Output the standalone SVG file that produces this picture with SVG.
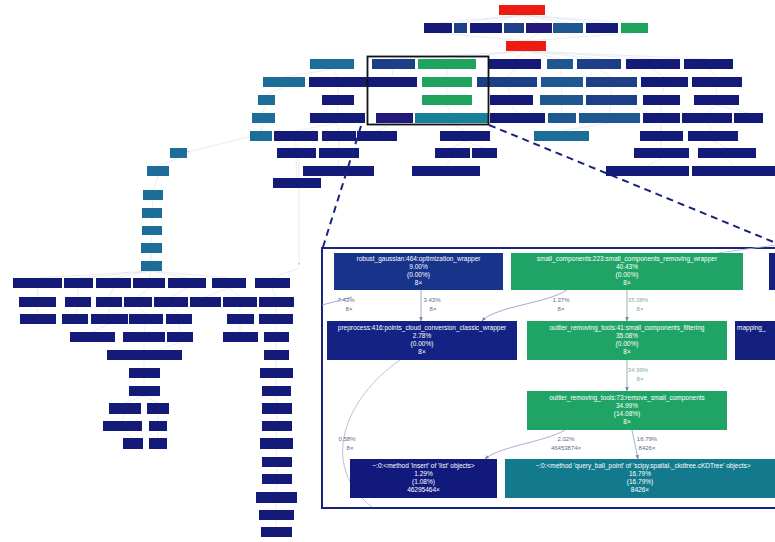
<svg xmlns="http://www.w3.org/2000/svg" width="775" height="542" viewBox="0 0 775 542">
<defs>
<style>
.n{fill:#141a78}.b{fill:#1c3f88}.b2{fill:#1f5890}.t{fill:#1c6e98}.t2{fill:#17819c}.p{fill:#22197a}.g{fill:#1fa35f}.r{fill:#ec1c10}
.c{stroke:#dcdfeb;stroke-width:0.6;fill:none}
.e{stroke:#9a9fbd;stroke-width:0.9;fill:none}
.eg{stroke:#8fbca2;stroke-width:1;fill:none}
.tx{font-family:"Liberation Sans",Arial,sans-serif;font-size:6.5px;fill:#ffffff;text-anchor:middle}
.lb{font-family:"Liberation Sans",Arial,sans-serif;font-size:6px;fill:#5f6894;text-anchor:middle}
.lg{font-family:"Liberation Sans",Arial,sans-serif;font-size:6px;fill:#7fae95;text-anchor:middle}
.dash{stroke:#1a237e;stroke-width:2;stroke-dasharray:7 5;fill:none}
</style>
<marker id="ah" viewBox="0 0 10 10" refX="9" refY="5" markerWidth="5" markerHeight="5" orient="auto"><path d="M0,1 L10,5 L0,9 z" fill="#7d83a6"/></marker>
<marker id="ahs" viewBox="0 0 10 10" refX="9" refY="5" markerWidth="4" markerHeight="4" orient="auto"><path d="M0,1 L10,5 L0,9 z" fill="#b8bdd4"/></marker>
</defs>
<rect width="775" height="542" fill="#ffffff"/>

<g id="main-connectors">
<path class="c" d="M522,15 L438,23 M522,15 L460,23 M522,15 L486,23 M522,15 L514,23 M522,15 L539,23 M522,15 L568,23 M522,15 L602,23 M522,15 L634,23"/>
<path class="c" d="M438,33 L526,41 M539,33 L526,41 M634,33 L526,41"/>
<path class="c" d="M526,51 L393,59 M526,51 L447,59 M526,51 L515,59 M526,51 L560,59 M526,51 L599,59 M526,51 L653,59 M526,51 L708,59"/>
<path class="c" d="M332,69 L284,77 M332,69 L338,77 M393,69 L392,77 M447,69 L447,77 M515,69 L507,77 M560,69 L562,77 M599,69 L611,77 M653,69 L664,77 M708,69 L717,77"/>
<path class="c" d="M284,87 L266,95 M338,87 L338,95 M447,87 L447,95 M507,87 L511,95 M562,87 L561,95 M611,87 L611,95 M664,87 L661,95 M717,87 L716,95"/>
<path class="c" d="M266,105 L263,113 M338,105 L337,113 M447,105 L451,113 M511,105 L517,113 M561,105 L562,113 M611,105 L609,113 M661,105 L661,113 M716,105 L707,113 M716,105 L748,113"/>
<path class="c" d="M263,123 L261,131 M337,123 L296,131 M337,123 L339,131 M394,123 L377,131 M451,123 L465,131 M609,123 L561,131 M661,123 L661,131 M707,123 L713,131"/>
<path class="c" d="M296,141 L296,148 M339,141 L339,148 M465,141 L452,148 M465,141 L484,148 M661,141 L661,148 M713,141 L727,148"/>
<path class="c" d="M339,158 L338,166 M452,158 L446,166 M661,158 L647,166 M727,158 L733,166 M296,158 L297,178"/>
<path class="c" d="M249,137 L187,152" marker-end="url(#ahs)"/>
<path class="c" d="M299,146 L299,265" marker-end="url(#ahs)"/>
<path class="c" d="M178,158 L158,166 M158,176 L153,190 M153,200 L152,208 M152,218 L152,226 M152,235 L151,243 M151,253 L151,261"/>
<path class="c" d="M151,271 L38,278 M151,271 L78,278 M151,271 L113,278 M151,271 L149,278 M151,271 L187,278 M151,271 L229,278 M299,268 L272,278"/>
<path class="c" d="M38,288 L37,297 M78,288 L78,297 M113,288 L109,297 M149,288 L138,297 M187,288 L171,297 M229,288 L205,297 M229,288 L240,297 M272,288 L276,297"/>
<path class="c" d="M37,307 L38,314 M78,307 L75,314 M109,307 L109,314 M138,307 L146,314 M171,307 L179,314 M240,307 L240,314 M276,307 L276,314"/>
<path class="c" d="M109,324 L92,332 M146,324 L144,332 M179,324 L180,332 M240,324 L240,332 M276,324 L276,332"/>
<path class="c" d="M144,342 L144,350 M180,342 L160,350 M276,342 L276,350"/>
<path class="c" d="M144,360 L144,368 M144,378 L144,386 M144,396 L125,403 M144,396 L158,403 M125,414 L122,421 M158,414 L158,421 M122,431 L133,438 M158,431 L158,438 M276,360 L276,368 M276,378 L276,386 M276,396 L277,403 M277,414 L277,421 M277,431 L276,438 M276,449 L277,457 M277,467 L277,474 M277,484 L276,492 M276,503 L276,510 M276,520 L276,527"/>
</g>

<g id="main-nodes">
<rect id="m-r1" class="r" x="499" y="5" width="46" height="10"/>
<g id="m-row2"><rect class="n" x="424" y="23" width="28" height="10"/><rect class="b" x="454" y="23" width="13" height="10"/><rect class="n" x="470" y="23" width="32" height="10"/><rect class="b" x="504" y="23" width="20" height="10"/><rect class="p" x="526" y="23" width="26" height="10"/><rect class="b2" x="553" y="23" width="30" height="10"/><rect class="n" x="586" y="23" width="32" height="10"/><rect class="g" x="621" y="23" width="27" height="10"/></g>
<rect id="m-r2" class="r" x="506" y="41" width="40" height="10"/>
<g id="m-row3"><rect class="t" x="310" y="59" width="44" height="10"/><rect class="b" x="372" y="59" width="43" height="10"/><rect class="g" x="418" y="59" width="58" height="10"/><rect class="n" x="489" y="59" width="52" height="10"/><rect class="b2" x="547" y="59" width="26" height="10"/><rect class="b" x="577" y="59" width="44" height="10"/><rect class="n" x="626" y="59" width="54" height="10"/><rect class="n" x="684" y="59" width="49" height="10"/></g>
<g id="m-row4"><rect class="t" x="263" y="77" width="42" height="10"/><rect class="n" x="309" y="77" width="58" height="10"/><rect class="n" x="368" y="77" width="49" height="10"/><rect class="g" x="422" y="77" width="50" height="10"/><rect class="b" x="477" y="77" width="60" height="10"/><rect class="b2" x="541" y="77" width="42" height="10"/><rect class="b" x="586" y="77" width="51" height="10"/><rect class="n" x="641" y="77" width="47" height="10"/><rect class="n" x="692" y="77" width="50" height="10"/></g>
<g id="m-row5"><rect class="t" x="258" y="95" width="17" height="10"/><rect class="n" x="322" y="95" width="32" height="10"/><rect class="g" x="422" y="95" width="50" height="10"/><rect class="n" x="490" y="95" width="43" height="10"/><rect class="b2" x="540" y="95" width="43" height="10"/><rect class="b" x="586" y="95" width="51" height="10"/><rect class="n" x="643" y="95" width="37" height="10"/><rect class="n" x="694" y="95" width="45" height="10"/></g>
<g id="m-row6"><rect class="t" x="252" y="113" width="23" height="10"/><rect class="n" x="310" y="113" width="55" height="10"/><rect class="p" x="376" y="113" width="37" height="10"/><rect class="t2" x="415" y="113" width="73" height="10"/><rect class="n" x="490" y="113" width="55" height="10"/><rect class="b2" x="548" y="113" width="28" height="10"/><rect class="b2" x="579" y="113" width="61" height="10"/><rect class="n" x="643" y="113" width="37" height="10"/><rect class="n" x="682" y="113" width="50" height="10"/><rect class="n" x="734" y="113" width="29" height="10"/></g>
<g id="m-row7"><rect class="t" x="250" y="131" width="22" height="10"/><rect class="n" x="274" y="131" width="44" height="10"/><rect class="n" x="322" y="131" width="34" height="10"/><rect class="n" x="357" y="131" width="40" height="10"/><rect class="n" x="440" y="131" width="50" height="10"/><rect class="t" x="534" y="131" width="55" height="10"/><rect class="n" x="640" y="131" width="43" height="10"/><rect class="n" x="688" y="131" width="50" height="10"/></g>
<g id="m-row8"><rect class="t" x="170" y="148" width="17" height="10"/><rect class="n" x="277" y="148" width="39" height="10"/><rect class="n" x="319" y="148" width="40" height="10"/><rect class="n" x="435" y="148" width="35" height="10"/><rect class="n" x="472" y="148" width="25" height="10"/><rect class="n" x="634" y="148" width="55" height="10"/><rect class="n" x="698" y="148" width="58" height="10"/></g>
<g id="m-row9"><rect class="t" x="147" y="166" width="22" height="10"/><rect class="n" x="303" y="166" width="71" height="10"/><rect class="n" x="412" y="166" width="68" height="10"/><rect class="n" x="606" y="166" width="83" height="10"/><rect class="n" x="692" y="166" width="83" height="10"/></g>
<rect id="m-row10" class="n" x="273" y="178" width="48" height="10"/>
<g id="m-leftcol"><rect class="t" x="143" y="190" width="20" height="10"/><rect class="t" x="142" y="208" width="20" height="10"/><rect class="t" x="142" y="226" width="20" height="9"/><rect class="t" x="141" y="243" width="21" height="10"/><rect class="t" x="141" y="261" width="21" height="10"/></g>
<g id="m-rowL1"><rect class="n" x="13" y="278" width="49" height="10"/><rect class="n" x="64" y="278" width="29" height="10"/><rect class="n" x="96" y="278" width="35" height="10"/><rect class="n" x="133" y="278" width="32" height="10"/><rect class="n" x="168" y="278" width="38" height="10"/><rect class="n" x="212" y="278" width="34" height="10"/><rect class="n" x="255" y="278" width="35" height="10"/></g>
<g id="m-rowL2"><rect class="n" x="19" y="297" width="37" height="10"/><rect class="n" x="65" y="297" width="26" height="10"/><rect class="n" x="96" y="297" width="26" height="10"/><rect class="n" x="124" y="297" width="28" height="10"/><rect class="n" x="154" y="297" width="34" height="10"/><rect class="n" x="190" y="297" width="31" height="10"/><rect class="n" x="223" y="297" width="34" height="10"/><rect class="n" x="259" y="297" width="35" height="10"/></g>
<g id="m-rowL3"><rect class="n" x="20" y="314" width="36" height="10"/><rect class="n" x="62" y="314" width="26" height="10"/><rect class="n" x="91" y="314" width="37" height="10"/><rect class="n" x="129" y="314" width="34" height="10"/><rect class="n" x="166" y="314" width="26" height="10"/><rect class="n" x="227" y="314" width="27" height="10"/><rect class="n" x="259" y="314" width="34" height="10"/></g>
<g id="m-rowL4"><rect class="n" x="70" y="332" width="45" height="10"/><rect class="n" x="123" y="332" width="42" height="10"/><rect class="n" x="167" y="332" width="26" height="10"/><rect class="n" x="223" y="332" width="35" height="10"/><rect class="n" x="264" y="332" width="25" height="10"/></g>
<g id="m-lower"><rect class="n" x="107" y="350" width="75" height="10"/><rect class="n" x="129" y="368" width="31" height="10"/><rect class="n" x="129" y="386" width="31" height="10"/><rect class="n" x="109" y="403" width="32" height="11"/><rect class="n" x="147" y="403" width="22" height="11"/><rect class="n" x="103" y="421" width="39" height="10"/><rect class="n" x="149" y="421" width="18" height="10"/><rect class="n" x="123" y="438" width="20" height="11"/><rect class="n" x="149" y="438" width="18" height="11"/></g>
<g id="m-rightcol"><rect class="n" x="264" y="350" width="25" height="10"/><rect class="n" x="260" y="368" width="33" height="10"/><rect class="n" x="262" y="386" width="29" height="10"/><rect class="n" x="262" y="403" width="30" height="11"/><rect class="n" x="262" y="421" width="30" height="10"/><rect class="n" x="260" y="438" width="33" height="11"/><rect class="n" x="262" y="457" width="30" height="10"/><rect class="n" x="262" y="474" width="30" height="10"/><rect class="n" x="256" y="492" width="41" height="11"/><rect class="n" x="259" y="510" width="35" height="10"/><rect class="n" x="261" y="527" width="31" height="10"/></g>
</g>

<g id="zoom-frame">
<rect x="367.5" y="56.5" width="121" height="68" fill="none" stroke="#111111" stroke-width="1.8"/>
<path class="dash" d="M361,126 L323,247"/>
<path class="dash" d="M489,125 L776,243"/>
<rect x="322" y="248" width="460" height="260" fill="#ffffff" stroke="#1a237e" stroke-width="2"/>
</g>

<g id="connectors">
<path class="e" d="M322,305 L352,297"/>
<path class="e" d="M421,290 L421,321" marker-end="url(#ah)"/>
<path class="e" d="M567,290 C545,304 496,306 482,321" marker-end="url(#ah)"/>
<path class="eg" d="M627,290 L627,321" marker-end="url(#ah)"/>
<path class="eg" d="M627,360 L627,391" marker-end="url(#ah)"/>
<path class="e" d="M565,430 C545,442 500,446 485,459" marker-end="url(#ah)" style="stroke:#b79bc8"/>
<path class="e" d="M632,430 L638,459" marker-end="url(#ah)" style="stroke:#8fb0bc"/>
<path class="e" d="M400,360 C345,398 318,465 372,507" style="stroke:#b6bad0"/>
<path class="e" d="M718,253 L776,245" style="stroke:#b6bad0"/>
<text class="lb" x="346" y="302">7.43%</text><text class="lb" x="349" y="311">8×</text>
<text class="lb" x="432" y="302">3.43%</text><text class="lb" x="433" y="311">8×</text>
<text class="lb" x="561" y="302">1.37%</text><text class="lb" x="561" y="311">8×</text>
<text class="lg" x="638" y="302">35.08%</text><text class="lg" x="640" y="311">8×</text>
<text class="lg" x="638" y="372">34.99%</text><text class="lg" x="640" y="381">8×</text>
<text class="lb" x="566" y="441">2.02%</text><text class="lb" x="566" y="450">46453874×</text>
<text class="lb" x="647" y="441">16.79%</text><text class="lb" x="647" y="450">8426×</text>
<text class="lb" x="347" y="441">0.58%</text><text class="lb" x="350" y="450">8×</text>
</g>

<g id="node-robust">
<rect x="334" y="253" width="169" height="37" fill="#17338a"/>
<text class="tx" x="418.5" y="261">robust_gaussian:464:optimization_wrapper</text>
<text class="tx" x="418.5" y="269">9.00%</text><text class="tx" x="418.5" y="277">(0.00%)</text><text class="tx" x="418.5" y="285">8×</text>
</g>
<g id="node-small-wrapper">
<rect x="511" y="253" width="232" height="37" fill="#1fa466"/>
<text class="tx" x="627" y="261">small_components:223:small_components_removing_wrapper</text>
<text class="tx" x="627" y="269">40.43%</text><text class="tx" x="627" y="277">(0.00%)</text><text class="tx" x="627" y="285">8×</text>
</g>
<g id="node-right-top">
<rect x="769" y="253" width="20" height="37" fill="#13207e"/>
</g>
<g id="node-preprocess">
<rect x="327" y="321" width="190" height="39" fill="#142283"/>
<text class="tx" x="422" y="330">preprocess:416:points_cloud_conversion_classic_wrapper</text>
<text class="tx" x="422" y="338">2.78%</text><text class="tx" x="422" y="346">(0.00%)</text><text class="tx" x="422" y="354">8×</text>
</g>
<g id="node-filtering">
<rect x="527" y="321" width="200" height="39" fill="#1fa466"/>
<text class="tx" x="627" y="330">outlier_removing_tools:41:small_components_filtering</text>
<text class="tx" x="627" y="338">35.08%</text><text class="tx" x="627" y="346">(0.00%)</text><text class="tx" x="627" y="354">8×</text>
</g>
<g id="node-mapping">
<rect x="735" y="321" width="50" height="39" fill="#13207e"/>
<text class="tx" x="737" y="330" style="text-anchor:start">mapping_</text>
</g>
<g id="node-remove-small">
<rect x="527" y="391" width="200" height="39" fill="#1fa466"/>
<text class="tx" x="627" y="400">outlier_removing_tools:73:remove_small_components</text>
<text class="tx" x="627" y="408">34.99%</text><text class="tx" x="627" y="416">(14.08%)</text><text class="tx" x="627" y="424">8×</text>
</g>
<g id="node-insert">
<rect x="350" y="459" width="147" height="39" fill="#111a7c"/>
<text class="tx" x="423.5" y="468">~:0:&lt;method 'insert' of 'list' objects&gt;</text>
<text class="tx" x="423.5" y="476">1.29%</text><text class="tx" x="423.5" y="484">(1.08%)</text><text class="tx" x="423.5" y="492">46295464×</text>
</g>
<g id="node-query">
<rect x="505" y="459" width="280" height="39" fill="#137a8e"/>
<text class="tx" x="643" y="468">~:0:&lt;method 'query_ball_point' of 'scipy.spatial._ckdtree.cKDTree' objects&gt;</text>
<text class="tx" x="640" y="476">16.79%</text><text class="tx" x="640" y="484">(16.79%)</text><text class="tx" x="640" y="492">8426×</text>
</g>
</svg>
